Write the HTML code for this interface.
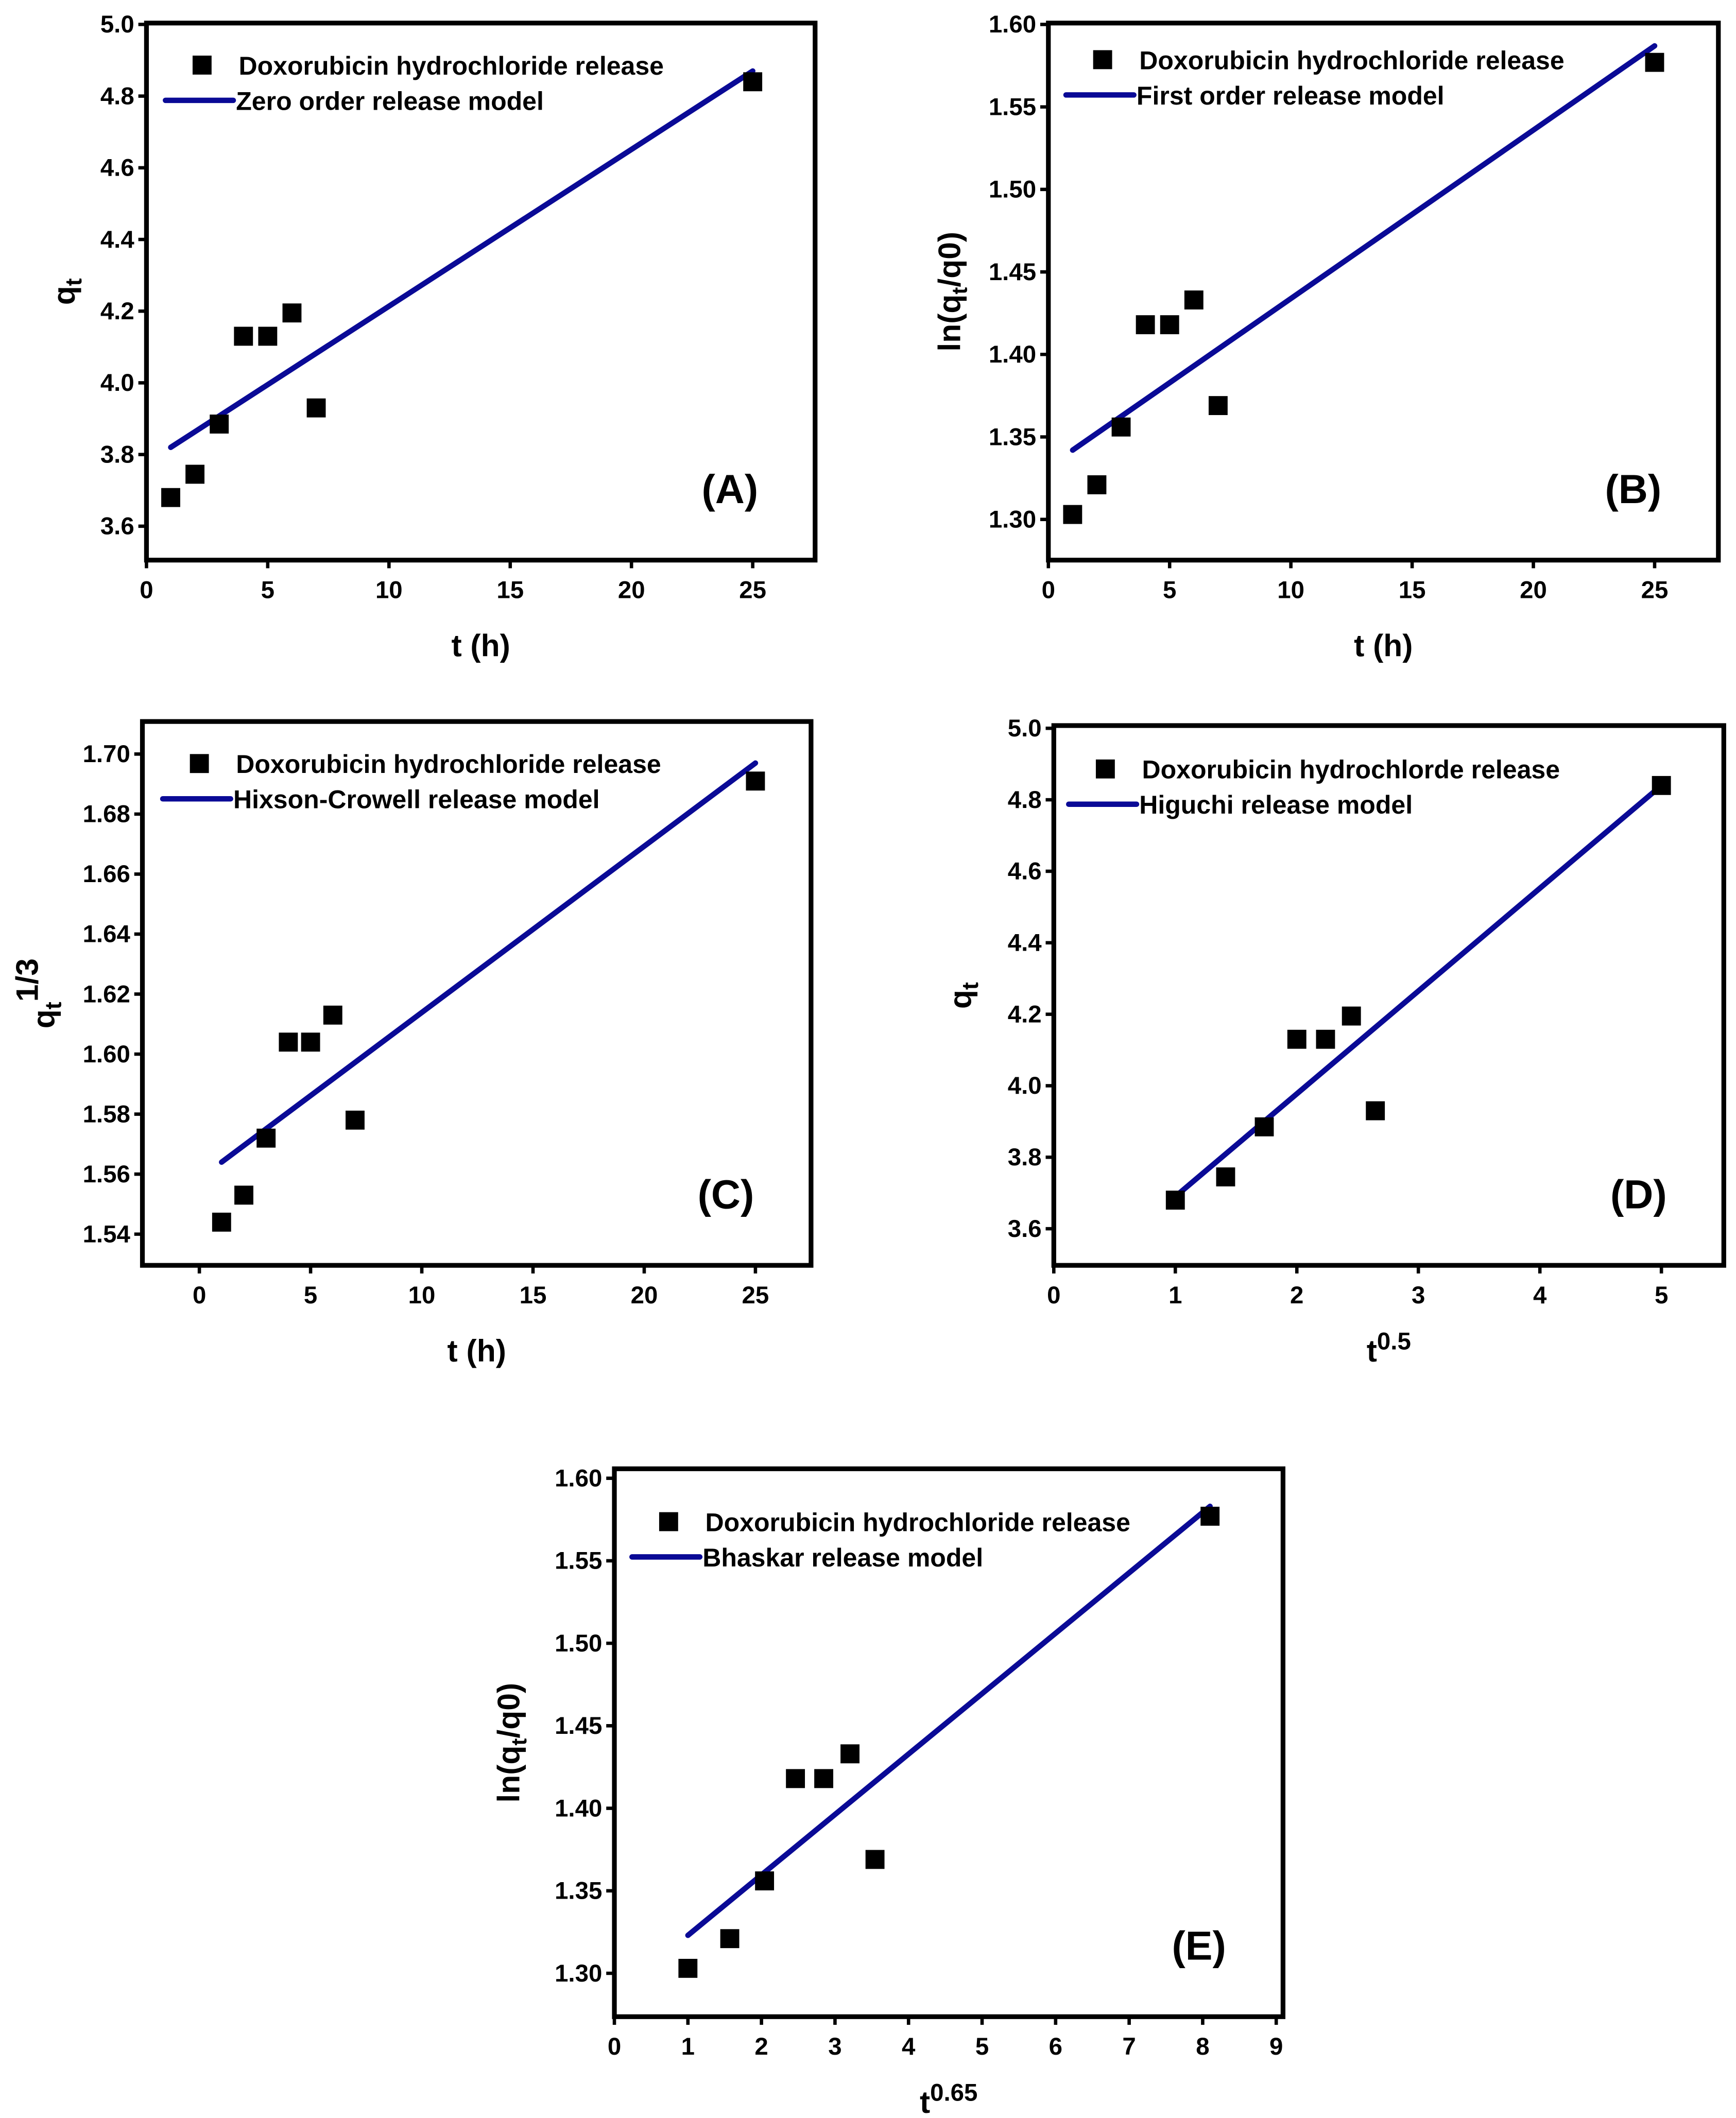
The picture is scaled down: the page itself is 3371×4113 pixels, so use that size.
<!DOCTYPE html>
<html><head><meta charset="utf-8"><style>
html,body{margin:0;padding:0;background:#fff;}
svg{display:block;}
text{font-family:"Liberation Sans Narrow","Liberation Sans",Arial,sans-serif;font-weight:bold;fill:#000;}
</style></head><body>
<svg id="fig" width="3371" height="4113" viewBox="0 0 1280 1561.7" preserveAspectRatio="none" xmlns="http://www.w3.org/2000/svg"></svg>
<script>
const tHours = [1, 2, 3, 4, 5, 6, 7, 25];
const qtValues = [3.68, 3.745, 3.885, 4.13, 4.13, 4.195, 3.93, 4.84];
const lnValues = [1.303, 1.321, 1.356, 1.418, 1.418, 1.433, 1.369, 1.577];
const cubeRootValues = [1.544, 1.553, 1.572, 1.604, 1.604, 1.613, 1.578, 1.691];
const sqrtT = [1, 1.414, 1.732, 2, 2.236, 2.449, 2.646, 5];
const t065 = [1, 1.569, 2.042, 2.462, 2.847, 3.204, 3.544, 8.1];
const fitA = [[1, 3.82], [25, 4.87]];
const fitB = [[1, 1.342], [25, 1.587]];
const fitC = [[1, 1.564], [25, 1.697]];
const fitD = [[1, 3.69], [5, 4.84]];
const fitE = [[1, 1.323], [8.1, 1.583]];
const ticksT = [0, 5, 10, 15, 20, 25];
const ticksTC = [0, 5, 10, 15, 20, 25];
const ticksD = [0, 1, 2, 3, 4, 5];
const ticksE = [0, 1, 2, 3, 4, 5, 6, 7, 8, 9];
const ticksQ = [3.6, 3.8, 4.0, 4.2, 4.4, 4.6, 4.8, 5.0];
const ticksLn = [1.30, 1.35, 1.40, 1.45, 1.50, 1.55, 1.60];
const ticksCube = [1.54, 1.56, 1.58, 1.60, 1.62, 1.64, 1.66, 1.68, 1.70];

const NS = "http://www.w3.org/2000/svg";
const svg = document.getElementById('fig');
function mk(tag, attrs, parent) {
  const e = document.createElementNS(NS, tag);
  for (const k in attrs) e.setAttribute(k, attrs[k]);
  (parent || svg).appendChild(e);
  return e;
}
function panel(p) {
  const g = mk('g', {});
  
  
  const X = v => p.x0 + (v - p.xv0) * (p.x1 - p.x0) / (p.xv1 - p.xv0);
  const Y = v => p.y0 + (v - p.yv0) * (p.y1 - p.y0) / (p.yv1 - p.yv0);
  p.xt.forEach(v => {
    const x = X(v);
    const l = mk('line', {x1: x, x2: x, y1: p.by, y2: p.by + 6, stroke: '#000', 'stroke-width': 2.5}, g);
    
    
    const t = mk('text', {x: x, y: p.by + 28, 'text-anchor': 'middle', 'font-size': 18}, g);
    t.textContent = p.xfmt(v);
    
    
  });
  p.yt.forEach(v => {
    const y = Y(v);
    const l = mk('line', {x1: p.bx - 6, x2: p.bx, y1: y, y2: y, stroke: '#000', 'stroke-width': 2.5}, g);
    
    
    const t = mk('text', {x: p.bx - 9, y: y + 6, 'text-anchor': 'end', 'font-size': 18}, g);
    t.textContent = v.toFixed(p.yd);
    
    
  });
  const box = mk('rect', {x: p.bx, y: p.ty, width: p.rx - p.bx, height: p.by - p.ty, fill: 'none', stroke: '#000', 'stroke-width': 3.5}, g);
  
  
  const fl = mk('line', {x1: X(p.fit[0][0]), y1: Y(p.fit[0][1]), x2: X(p.fit[1][0]), y2: Y(p.fit[1][1]), stroke: '#0a0a96', 'stroke-width': 4, 'stroke-linecap': 'round'}, g);
  
  
  p.xs.forEach((xv, i) => {
    const r = mk('rect', {x: X(xv) - 7, y: Y(p.ys[i]) - 7, width: 14, height: 14, fill: '#000'}, g);
    
    
  });
  const lg = mk('g', {}, g);
  
  
  mk('rect', {x: p.lx + 20, y: p.ly - 7, width: 14, height: 14, fill: '#000'}, lg);
  const t1 = mk('text', {x: p.lx + 54, y: p.ly + 7, 'font-size': 19}, lg);
  t1.textContent = p.leg1;
  
  
  mk('line', {x1: p.lx, x2: p.lx + 50, y1: p.ly + 26, y2: p.ly + 26, stroke: '#0a0a96', 'stroke-width': 4, 'stroke-linecap': 'round'}, lg);
  const t2 = mk('text', {x: p.lx + 52, y: p.ly + 33, 'font-size': 19}, lg);
  t2.textContent = p.leg2;
  
  
  const pl = mk('text', {x: p.rx - 42, y: p.by - 42, 'text-anchor': 'end', 'font-size': 30}, g);
  pl.textContent = '(' + p.id + ')';
  
  
  const xt = mk('text', {x: (p.bx + p.rx) / 2, y: p.by + 71, 'text-anchor': 'middle', 'font-size': 23}, g);
  xt.innerHTML = p.xtitle;
  
  
  const cy = (p.ty + p.by) / 2;
  const yt = mk('text', {x: p.ytx, y: cy, 'text-anchor': 'middle', 'font-size': 23, transform: 'rotate(-90 ' + p.ytx + ' ' + cy + ')'}, g);
  yt.innerHTML = p.ytitle;
  
  
}
const lnTitle = 'ln(q<tspan font-size="16" dy="5">t</tspan><tspan dy="-5">/q0)</tspan>';
panel({id: 'A', bx: 108, rx: 601, ty: 17, by: 413, x0: 108, x1: 555, xv0: 0, xv1: 25, y0: 18, y1: 388, yv0: 5.0, yv1: 3.6,
  xt: ticksT, xfmt: v => v, yt: ticksQ, yd: 1, xs: tHours, ys: qtValues, fit: fitA, lx: 122, ly: 48,
  leg1: 'Doxorubicin hydrochloride release', leg2: 'Zero order release model', xtitle: 't (h)',
  ytitle: 'q<tspan font-size="17" dy="5">t</tspan>', ytx: 55});
panel({id: 'B', bx: 773, rx: 1267, ty: 17, by: 413, x0: 773, x1: 1220, xv0: 0, xv1: 25, y0: 18, y1: 383, yv0: 1.60, yv1: 1.30,
  xt: ticksT, xfmt: v => v, yt: ticksLn, yd: 2, xs: tHours, ys: lnValues, fit: fitB, lx: 786, ly: 44,
  leg1: 'Doxorubicin hydrochloride release', leg2: 'First order release model', xtitle: 't (h)',
  ytitle: lnTitle, ytx: 708});
panel({id: 'C', bx: 105, rx: 598, ty: 532, by: 933, x0: 147, x1: 557, xv0: 0, xv1: 25, y0: 556, y1: 910, yv0: 1.70, yv1: 1.54,
  xt: ticksTC, xfmt: v => v, yt: ticksCube, yd: 2, xs: tHours, ys: cubeRootValues, fit: fitC, lx: 120, ly: 563,
  leg1: 'Doxorubicin hydrochloride release', leg2: 'Hixson-Crowell release model', xtitle: 't (h)',
  ytitle: 'q<tspan font-size="17" dy="5">t</tspan><tspan dy="-17">1/3</tspan>', ytx: 40});
panel({id: 'D', bx: 777, rx: 1271, ty: 535, by: 933, x0: 777, x1: 1225, xv0: 0, xv1: 5, y0: 537, y1: 906, yv0: 5.0, yv1: 3.6,
  xt: ticksD, xfmt: v => v, yt: ticksQ, yd: 1, xs: sqrtT, ys: qtValues, fit: fitD, lx: 788, ly: 567,
  leg1: 'Doxorubicin hydrochlorde release', leg2: 'Higuchi release model',
  xtitle: 't<tspan font-size="18" dy="-9">0.5</tspan>', ytitle: 'q<tspan font-size="17" dy="5">t</tspan>', ytx: 716});
panel({id: 'E', bx: 453, rx: 946, ty: 1083, by: 1487, x0: 453, x1: 941, xv0: 0, xv1: 9, y0: 1090, y1: 1455, yv0: 1.60, yv1: 1.30,
  xt: ticksE, xfmt: v => v, yt: ticksLn, yd: 2, xs: t065, ys: lnValues, fit: fitE, lx: 466, ly: 1122,
  leg1: 'Doxorubicin hydrochloride release', leg2: 'Bhaskar release model',
  xtitle: 't<tspan font-size="18" dy="-9">0.65</tspan>', ytitle: lnTitle, ytx: 383});
</script>
</body></html>
